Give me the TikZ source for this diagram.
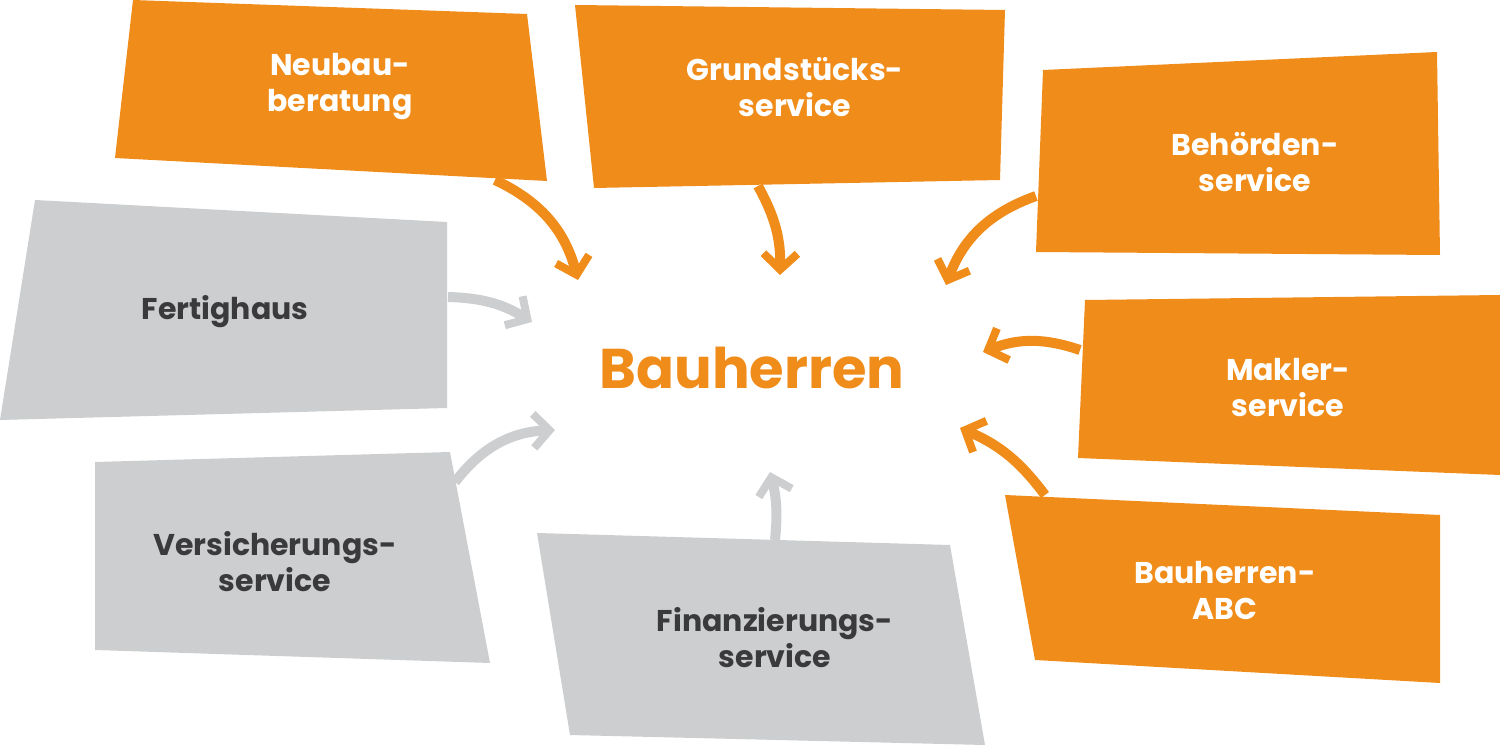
\documentclass[tikz,border=0pt]{standalone}
\usepackage{fontspec}
\setmainfont{Poppins}
\usetikzlibrary{arrows.meta}
\definecolor{org}{HTML}{F08C1A}
\definecolor{gry}{HTML}{CDCED0}
\definecolor{dtx}{HTML}{3A3A3C}
\begin{document}
\begin{tikzpicture}[x=1pt,y=-1pt,
 otx/.style={font=\bfseries\fontsize{30}{36}\selectfont,text=white,align=center},
 gtx/.style={font=\bfseries\fontsize{30}{36}\selectfont,text=dtx,align=center},
 oarr/.style={draw=org,line width=10pt,-{Straight Barb[length=16pt,width=34pt,line width=8pt]}},
 garr/.style={draw=gry,line width=10pt,-{Straight Barb[length=16pt,width=34pt,line width=8pt]}}]
\useasboundingbox (0,0) rectangle (1500,746);
\fill[org] (133,0)--(527,14)--(547,181)--(115,158)--cycle;
\fill[org] (575,5)--(1005,10)--(1000,180)--(594,188)--cycle;
\fill[org] (1043,70)--(1437,52)--(1440,255)--(1036,252)--cycle;
\fill[org] (1085,300)--(1500,295)--(1500,475)--(1078,458)--cycle;
\fill[org] (1005,495)--(1440,515)--(1440,683)--(1035,660)--cycle;
\fill[gry] (35,200)--(447,222)--(447,408)--(0,420)--cycle;
\fill[gry] (95,462)--(450,452)--(490,663)--(95,650)--cycle;
\fill[gry] (537,533)--(950,545)--(985,745)--(570,735)--cycle;
\node[otx] (n1) at (340,87) {Neubau-\\beratung};
\node[otx] (n2) at (795,87) {Grundstücks-\\service};
\node[otx] (n3) at (1255,162) {Behörden-\\service};
\node[otx] (n4) at (1288,388) {Makler-\\service};
\node[otx] (n5) at (1225,590) {Bauherren-\\ABC};
\node[gtx] (g1) at (225,312) {Fertighaus};
\node[gtx] (g2) at (275,562) {Versicherungs-\\service};
\node[gtx] (g3) at (775,638) {Finanzierungs-\\service};
\node[font=\bfseries\fontsize{56}{64}\selectfont,text=org] (c) at (752,368) {Bauherren};
\coordinate (a1s) at (495,180); \coordinate (a1e) at (578,280);
\coordinate (a2s) at (758,186); \coordinate (a2e) at (780,275);
\coordinate (a3s) at (1036,196); \coordinate (a3e) at (946,285);
\coordinate (a4s) at (1080,350); \coordinate (a4e) at (983,352);
\coordinate (a5s) at (1045,495); \coordinate (a5e) at (960,428);
\coordinate (b1s) at (448,297); \coordinate (b1e) at (532,322);
\coordinate (b2s) at (455,482); \coordinate (b2e) at (555,430);
\coordinate (b3s) at (775,540); \coordinate (b3e) at (770,472);
\draw[oarr] (a1s) to[bend left=25] (a1e);
\draw[oarr] (a2s) to[bend left=15] (a2e);
\draw[oarr] (a3s) to[bend right=25] (a3e);
\draw[oarr] (a4s) to[bend right=20] (a4e);
\draw[oarr] (a5s) to[bend right=15] (a5e);
\draw[garr] (b1s) to[bend left=15] (b1e);
\draw[garr] (b2s) to[bend left=25] (b2e);
\draw[garr] (b3s) to[bend right=10] (b3e);
\end{tikzpicture}
\end{document}
